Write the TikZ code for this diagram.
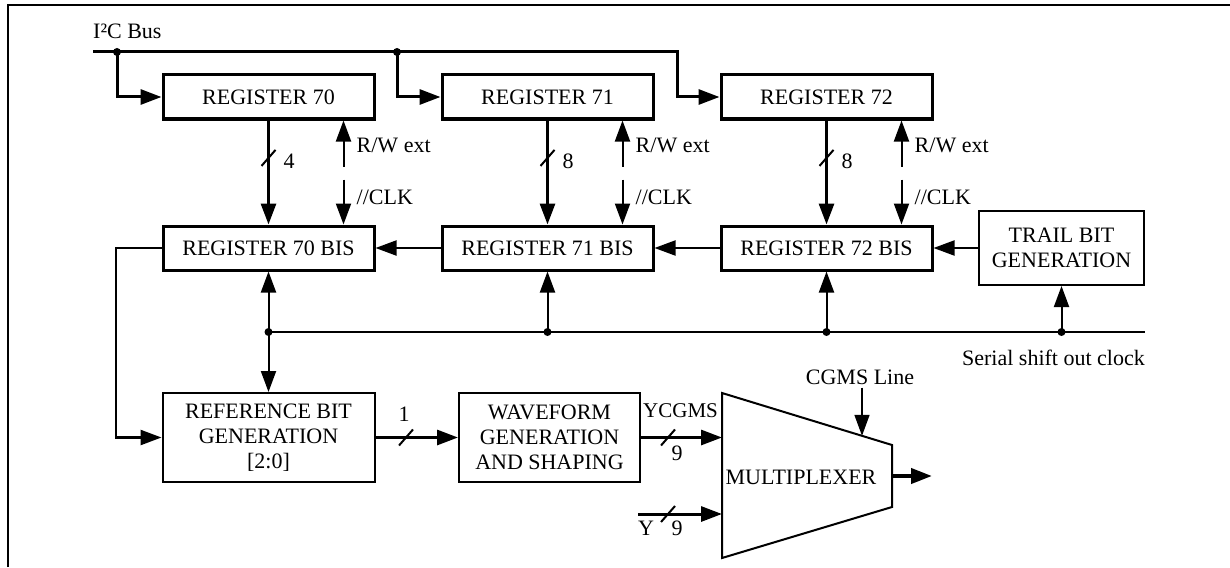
\documentclass[tikz,border=0pt]{standalone}
\usepackage{fontspec}
\setmainfont{Liberation Serif}
\usetikzlibrary{arrows.meta,calc}
\begin{document}
\begin{tikzpicture}[x=1pt,y=-1pt,
  every node/.style={font=\fontsize{22}{25}\selectfont, inner sep=0pt},
  regbox/.style={draw, line width=3pt, minimum width=211pt, minimum height=44pt},
  genbox/.style={draw, line width=2pt, align=center},
  tip/.style={-{Triangle[length=21pt,width=15pt]}},
  thickw/.style={line width=3pt},
  thinw/.style={line width=2pt},
  dot/.style={circle, fill, minimum size=8pt, inner sep=0pt},
  slash/.style={line width=2pt}
]
\useasboundingbox (0,0) rectangle (1230,567);
% frame
\draw[line width=2pt] (8,567) -- (8,5) -- (1230,5);

% registers
\node[regbox] (r70) at (268.5,97) {REGISTER 70};
\node[regbox] (r71) at (547.5,97) {REGISTER 71};
\node[regbox] (r72) at (826.5,97) {REGISTER 72};
\node[regbox] (b70) at (268.5,248) {REGISTER 70 BIS};
\node[regbox] (b71) at (547.5,248) {REGISTER 71 BIS};
\node[regbox] (b72) at (826.5,248) {REGISTER 72 BIS};
\node[genbox, minimum width=165pt, minimum height=74pt] (trail) at (1061.5,248) {TRAIL BIT\\GENERATION};
\node[genbox, minimum width=212pt, minimum height=89pt] (ref) at (268.5,437.5) {REFERENCE BIT\\GENERATION\\{[2:0]}};
\node[genbox, minimum width=181pt, minimum height=89pt] (wave) at (549.5,437.5) {WAVEFORM\\GENERATION\\AND SHAPING};

% bus
\node[anchor=west] (i2c) at (93,31) {I²C Bus};
\coordinate (busL) at (93,52);
\coordinate (busR) at (677,52);
\node[dot] (d1) at (117,52) {};
\node[dot] (d2) at (397,52) {};
\draw[thickw,tip] (busL) -- (busR) |- (r72.west);
\draw[thickw,tip] (d1.center) |- (r70.west);
\draw[thickw,tip] (d2.center) |- (r71.west);

% register to bis
\foreach \r/\b/\n in {r70/b70/4, r71/b71/8, r72/b72/8}{
  \draw[thickw,tip] (\r.south) -- (\b.north);
  \coordinate (m\r) at ($(\r.south)!0.36!(\b.north)$);
  \draw[slash] ([shift={(-7,8)}]m\r) -- ([shift={(7,-8)}]m\r);
  \node[anchor=west] (n\r) at ($(m\r)+(15,3)$) {\n};
  \coordinate (rw\r) at ($(\r.south east)+(-32,46)$);
  \coordinate (ck\r) at ($(\b.north east)+(-32,-45)$);
  \draw[thinw,tip] (rw\r) -- (rw\r |- \r.south);
  \draw[thinw,tip] (ck\r) -- (ck\r |- \b.north);
  \node[anchor=west] (lrw\r) at ($(rw\r)+(13,-21)$) {R/W ext};
  \node[anchor=west] (lck\r) at ($(ck\r)+(13,18)$) {//CLK};
}

% bis chain
\draw[thinw,tip] (b71.west) -- (b70.east);
\draw[thinw,tip] (b72.west) -- (b71.east);
\draw[thinw,tip] (trail.west) -- (b72.east);

% serial shift clock
\node[dot] (s1) at (268.5,332) {};
\node[dot] (s2) at (547.5,332) {};
\node[dot] (s3) at (826.5,332) {};
\node[dot] (s4) at (1061.5,332) {};
\coordinate (serR) at (1145,332);
\draw[thinw] (s1.center) -- (serR);
\draw[thinw,tip] (s1.center) -- (b70.south);
\draw[thinw,tip] (s2.center) -- (b71.south);
\draw[thinw,tip] (s3.center) -- (b72.south);
\draw[thinw,tip] (s4.center) -- (trail.south);
\draw[thinw,tip] (s1.center) -- (ref.north);
\node[anchor=east] (ser) at (1145,358) {Serial shift out clock};

% feedback
\coordinate (fbx) at (116,0);
\draw[line width=2.5pt,tip] (b70.west) -- (b70.west -| fbx) |- (ref.west);

% ref to wave
\draw[thickw,tip] (ref.east) -- (wave.west);
\coordinate (m1) at (406,437.5);
\draw[slash] ([shift={(-7,8)}]m1) -- ([shift={(7,-8)}]m1);
\node (n1) at (404,414) {1};

% multiplexer
\coordinate (mTL) at (722,393);
\coordinate (mTR) at (892,445);
\coordinate (mBR) at (892,507);
\coordinate (mBL) at (722,558);
\draw[thinw] (mTL) -- (mTR) -- (mBR) -- (mBL) -- cycle;
\node (mux) at (801,477) {MULTIPLEXER};
\coordinate (inA) at (722,437.5);
\coordinate (inB) at (722,514);
\coordinate (ystart) at (638,514);
\draw[thickw,tip] (wave.east) -- (inA);
\draw[thickw,tip] (ystart) -- (inB);
\coordinate (m9a) at (668,437.5);
\coordinate (m9b) at (668,514);
\draw[slash] ([shift={(-7,8)}]m9a) -- ([shift={(7,-8)}]m9a);
\draw[slash] ([shift={(-7,8)}]m9b) -- ([shift={(7,-8)}]m9b);
\node[anchor=west, font=\fontsize{21}{25}\selectfont] (ycg) at (643,411) {YCGMS};
\node (n9a) at (677,453) {9};
\node (n9b) at (677,528) {9};
\node (ylab) at (646,528) {Y};
\node (cgms) at (860,377) {CGMS Line};
\coordinate (cgB) at ($(mTL)!0.8235!(mTR)$);
\draw[line width=1.5pt,tip] (cgB |- cgms.south) ++(0,3) -- (cgB);
\coordinate (mOut) at (892,476);
\coordinate (outE) at (932,476);
\draw[line width=4pt,tip] (mOut) -- (outE);
\end{tikzpicture}
\end{document}
